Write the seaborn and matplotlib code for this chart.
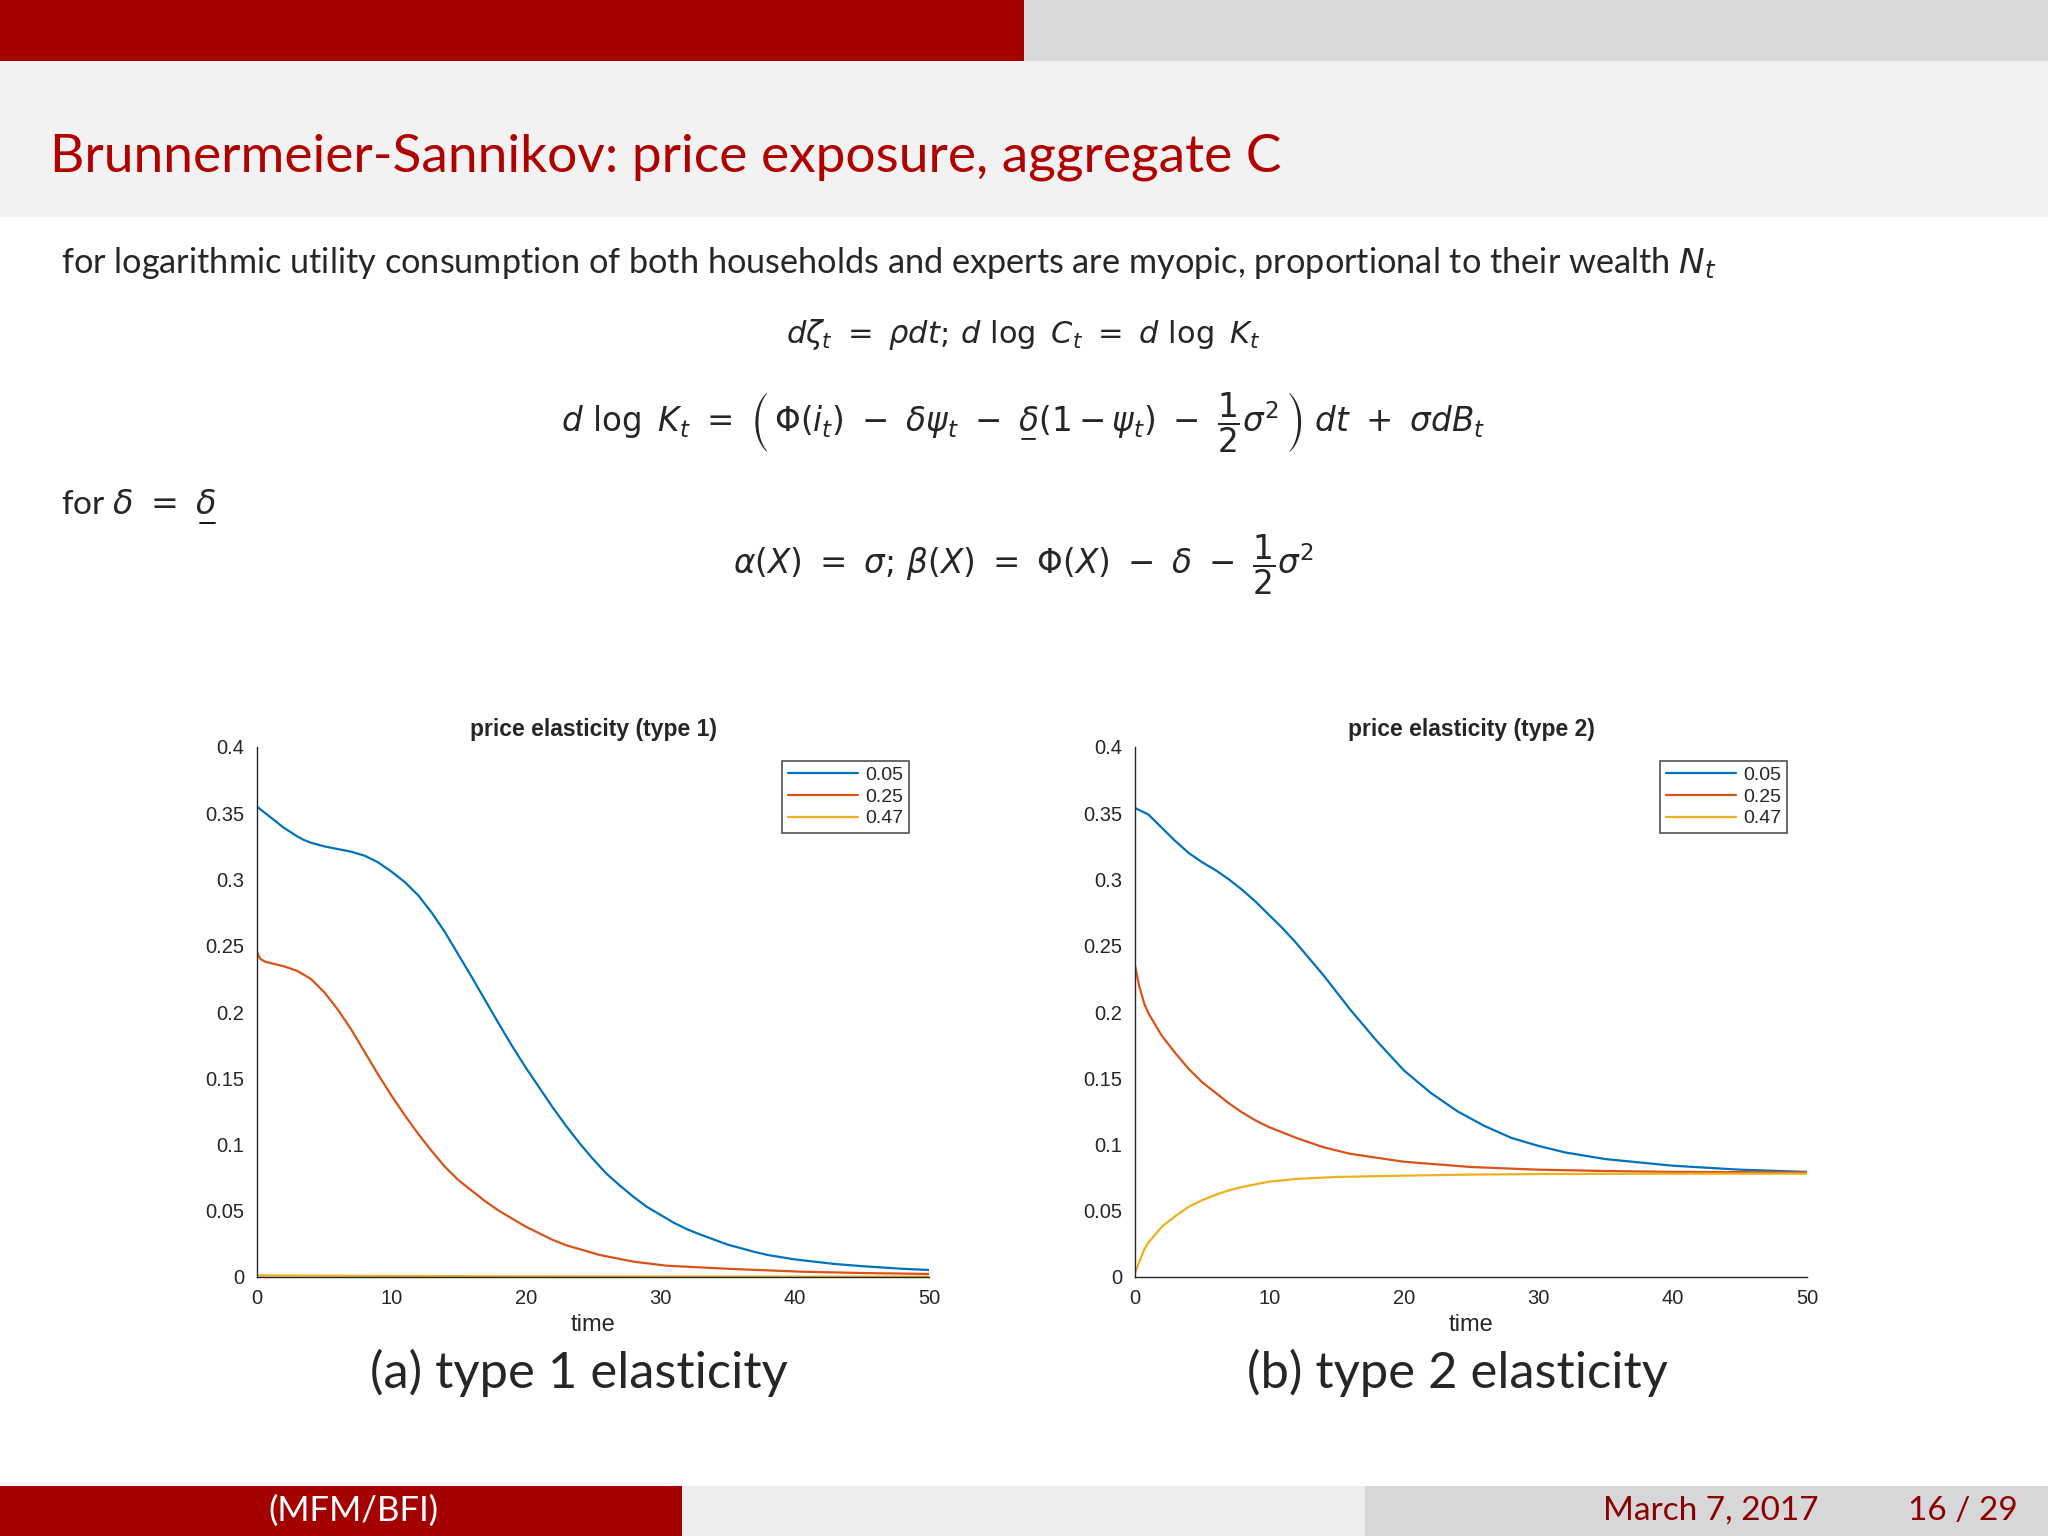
import matplotlib
matplotlib.use("Agg")
import matplotlib.pyplot as plt
import matplotlib.patches as mpatches
from matplotlib.lines import Line2D
import pandas as pd
import seaborn as sns

# data
t_blue1 = [0, 1, 2, 3, 3.5, 4, 5, 6, 7, 8, 9, 10, 11, 12, 13, 14, 15, 16, 17, 18, 19, 20,
           21, 22, 23, 24, 25, 26, 27, 28, 29, 30, 31, 32, 33, 35, 37, 38, 40, 43, 45,
           48, 50]
blue1 = [0.355, 0.347, 0.339, 0.3325, 0.3298, 0.3278, 0.325, 0.323, 0.321, 0.318, 0.313,
         0.306, 0.298, 0.288, 0.275, 0.260, 0.243, 0.226, 0.2085, 0.191, 0.174, 0.158,
         0.143, 0.128, 0.114, 0.101, 0.089, 0.078, 0.069, 0.0606, 0.053, 0.047,
         0.041, 0.036, 0.032, 0.0245, 0.019, 0.0166, 0.0133, 0.0098, 0.0082,
         0.0062, 0.0053]
t_orange1 = [0, 0.25, 0.6, 1, 2, 3, 4, 5, 6, 7, 8, 9, 10, 11, 12, 13, 14, 15, 16, 17,
             18, 19, 20, 21, 22, 23, 25.5, 28, 30.5, 35.5, 40.5, 45, 50]
orange1 = [0.245, 0.240, 0.238, 0.237, 0.2345, 0.231, 0.225, 0.215, 0.202, 0.187, 0.170,
           0.153, 0.137, 0.122, 0.108, 0.095, 0.083, 0.073, 0.065, 0.057,
           0.050, 0.044, 0.038, 0.033, 0.028, 0.024, 0.0166, 0.0116, 0.0085,
           0.006, 0.004, 0.003, 0.0023]
t_yellow1 = [0, 5, 10, 20, 30, 40, 50]
yellow1 = [0.0012, 0.0010, 0.0008, 0.0005, 0.0004, 0.0003, 0.0003]

t_blue2 = [0, 1, 2, 3, 4, 5, 6, 7, 8, 9, 10, 11, 12, 13, 14, 15, 16, 17, 18, 19, 20,
           22, 24, 26, 28, 30, 32, 35, 40, 45, 50]
blue2 = [0.354, 0.349, 0.339, 0.329, 0.320, 0.313, 0.307, 0.300, 0.292, 0.283, 0.273,
         0.263, 0.252, 0.240, 0.228, 0.215, 0.202, 0.190, 0.178, 0.167, 0.156,
         0.139, 0.125, 0.114, 0.105, 0.099, 0.094, 0.089, 0.084, 0.081, 0.0793]
t_orange2 = [0, 0.3, 0.7, 1, 2, 3, 4, 5, 6, 7, 8, 9, 10, 12, 14, 16, 18, 20, 25, 30,
             35, 40, 50]
orange2 = [0.235, 0.220, 0.206, 0.199, 0.182, 0.169, 0.157, 0.147, 0.139, 0.131, 0.124,
           0.118, 0.113, 0.105, 0.098, 0.093, 0.090, 0.087, 0.083, 0.081,
           0.080, 0.0793, 0.079]
t_yellow2 = [0, 0.3, 0.7, 1, 2, 3, 4, 5, 6, 7, 8, 10, 12, 15, 20, 25, 30, 40, 50]
yellow2 = [0.003, 0.011, 0.021, 0.026, 0.038, 0.046, 0.053, 0.058, 0.062, 0.0655, 0.068,
           0.072, 0.074, 0.0755, 0.0765, 0.0773, 0.0777, 0.078, 0.078]

series_names = ["0.05", "0.25", "0.47"]
colors = ["#0072BD", "#D95319", "#EDB120"]
x_ticks = [0, 10, 20, 30, 40, 50]
y_ticks = [0, 0.05, 0.1, 0.15, 0.2, 0.25, 0.3, 0.35, 0.4]
y_tick_labels = ["0", "0.05", "0.1", "0.15", "0.2", "0.25", "0.3", "0.35", "0.4"]

panels = [
    ("price elasticity (type 1)", "(a) type 1 elasticity",
     [(t_blue1, blue1), (t_orange1, orange1), (t_yellow1, yellow1)]),
    ("price elasticity (type 2)", "(b) type 2 elasticity",
     [(t_blue2, blue2), (t_orange2, orange2), (t_yellow2, yellow2)]),
]

sns.set_style("white")
plt.rcParams['font.family'] = ['Lato', 'DejaVu Sans']
plt.rcParams['mathtext.fontset'] = 'dejavusans'

W, H = 2048, 1536
fig = plt.figure(figsize=(20.48, 15.36), dpi=100)
fig.patch.set_facecolor("white")

def box(x0, y0, x1, y1, c):
    # pixel coords, y from top
    fig.add_artist(mpatches.Rectangle((x0 / W, 1 - y1 / H), (x1 - x0) / W, (y1 - y0) / H,
                                      transform=fig.transFigure, color=c, lw=0, zorder=0))

# header
box(0, 0, 1024, 61, "#A50000")
box(1024, 0, 2048, 61, "#D8DAD8")
box(0, 61, 2048, 217, "#F2F2F2")
fig.text(50 / W, 1 - 157 / H, "Brunnermeier-Sannikov: price exposure, aggregate C",
         color="#B00000", fontsize=38.3, va="center", ha="left")

# footer
box(0, 1486, 682, 1536, "#A50000")
box(682, 1486, 1365, 1536, "#EDEDEE")
box(1365, 1486, 2048, 1536, "#D7D7D9")
fig.text(353 / W, 1 - 1511 / H, "(MFM/BFI)", color="white", fontsize=25, ha="center", va="center")
fig.text(1819 / W, 1 - 1511 / H, "March 7, 2017", color="#8B0000", fontsize=24, ha="right", va="center")
fig.text(2018 / W, 1 - 1511 / H, "16 / 29", color="#8B0000", fontsize=24, ha="right", va="center")

# body text and equations
fig.text(61 / W, 1 - 263 / H,
         "for logarithmic utility consumption of both households and experts are myopic, "
         "proportional to their wealth $N_t$", fontsize=24.7, va="center", ha="left")
fig.text(1023 / W, 1 - 334 / H,
         r"$d\zeta_t\ =\ \rho dt;\,d\ \log\ C_t\ =\ d\ \log\ K_t$",
         fontsize=22, ha="center", va="center")
fig.text(1023 / W, 1 - 423 / H,
         r"$d\ \log\ K_t\ =\ \left(\,\Phi(i_t)\ -\ \delta\psi_t\ -\ \underset{-}{\delta}(1-\psi_t)"
         r"\ -\ \dfrac{1}{2}\sigma^2\,\right)\ dt\ +\ \sigma dB_t$",
         fontsize=23.5, ha="center", va="center")
for_txt = fig.text(61 / W, 1 - 505 / H, r"for $\delta\ =\ \delta$",
                   fontsize=24, va="center", ha="left")
fig.text(1023 / W, 1 - 565 / H,
         r"$\alpha(X)\ =\ \sigma;\,\beta(X)\ =\ \Phi(X)\ -\ \delta\ -\ \dfrac{1}{2}\sigma^2$",
         fontsize=23.5, ha="center", va="center")

# underline the last delta (lower bar) of "for delta = delta"
fig.canvas.draw()
bb = for_txt.get_window_extent(fig.canvas.get_renderer())
ul_y = (bb.y0 - 3) / H
fig.add_artist(Line2D([(bb.x1 - 16) / W, (bb.x1 - 1) / W], [ul_y, ul_y],
                      transform=fig.transFigure, color="black", lw=1.3))

axes_left = [257, 1135]
for (title, caption, lines), xl in zip(panels, axes_left):
    ax = fig.add_axes([xl / W, 1 - 1277 / H, 672 / W, 530 / H])
    for (tx, ty), name, c in zip(lines, series_names, colors):
        df = pd.DataFrame({"time": tx, "value": ty})
        sns.lineplot(data=df, x="time", y="value", ax=ax, color=c, linewidth=1.6, label=name)
    ax.set_xlim(0, 50)
    ax.set_ylim(0, 0.4)
    ax.set_xticks(x_ticks)
    ax.set_xticklabels([str(v) for v in x_ticks], family="Liberation Sans", fontsize=14.5)
    ax.set_yticks(y_ticks)
    ax.set_yticklabels(y_tick_labels, family="Liberation Sans", fontsize=14.5)
    ax.tick_params(direction="in", length=7, width=1, colors="#262626", pad=9)
    for s in ["top", "right"]:
        ax.spines[s].set_visible(False)
    for s in ["left", "bottom"]:
        ax.spines[s].set_color("#262626")
        ax.spines[s].set_linewidth(1)
    ax.set_xlabel("time", family="Liberation Sans", fontsize=17, labelpad=4)
    ax.set_ylabel("")
    ax.set_title(title, family="Liberation Sans", fontsize=16.5, fontweight="bold", pad=8)
    leg = ax.legend(loc="upper right", bbox_to_anchor=(0.970, 0.974), borderaxespad=0,
                    prop={"family": "Liberation Sans", "size": 14}, handlelength=3.6,
                    labelspacing=0.22, frameon=True, fancybox=False, handletextpad=0.4,
                    borderpad=0.27)
    leg.get_frame().set_edgecolor("#262626")
    leg.get_frame().set_linewidth(1.2)
    fig.text((xl + 322) / W, 1 - 1373 / H, caption, fontsize=36.5, ha="center", va="center")

fig.savefig("out.png", dpi=100)
